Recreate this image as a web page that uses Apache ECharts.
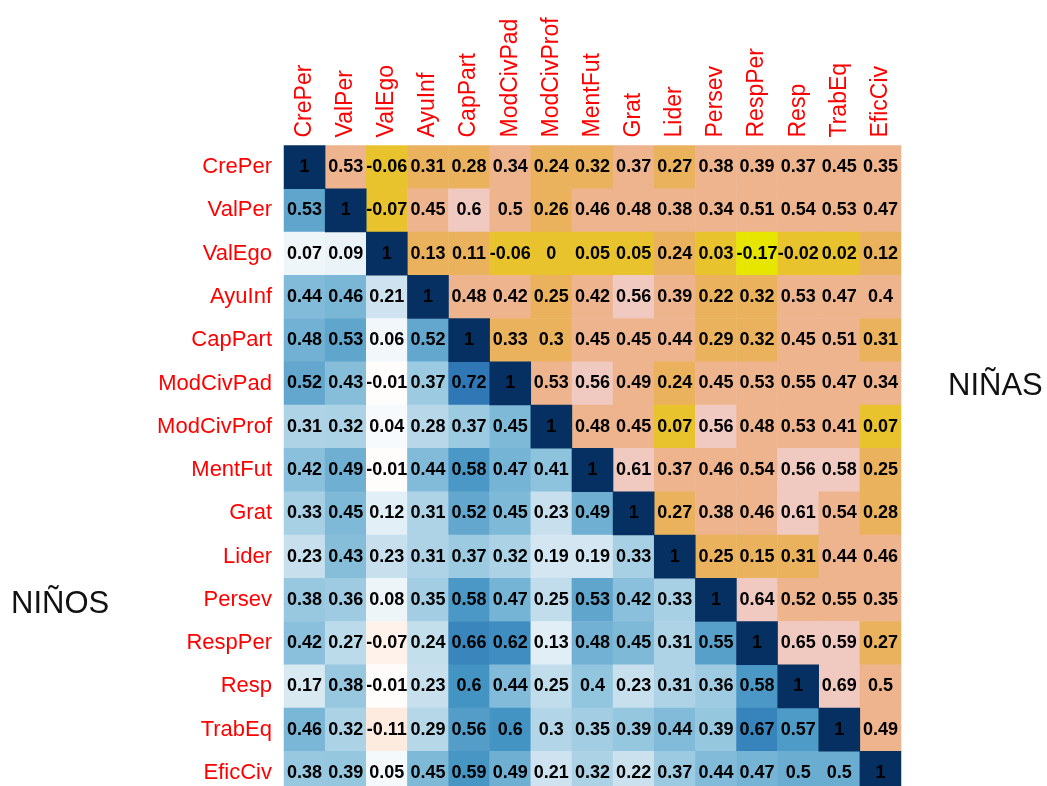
<!DOCTYPE html>
<html>
<head>
<meta charset="utf-8">
<script src="https://cdn.jsdelivr.net/npm/echarts@6/dist/echarts.min.js"></script>
<style>
  html, body { margin: 0; padding: 0; background: #ffffff; overflow: hidden; }
  #chart { width: 1047px; height: 800px; }
</style>
</head>
<body>
<div id="chart"></div>
<script>
// Variables of the correlation matrix (same order on both axes)
const variables = ['CrePer', 'ValPer', 'ValEgo', 'AyuInf', 'CapPart', 'ModCivPad', 'ModCivProf',
  'MentFut', 'Grat', 'Lider', 'Persev', 'RespPer', 'Resp', 'TrabEq', 'EficCiv'];

// Girls (upper triangle): row i holds correlations with variables i+1 .. end
const ninasRows = [
  [0.53, -0.06, 0.31, 0.28, 0.34, 0.24, 0.32, 0.37, 0.27, 0.38, 0.39, 0.37, 0.45, 0.35],
  [-0.07, 0.45, 0.6, 0.5, 0.26, 0.46, 0.48, 0.38, 0.34, 0.51, 0.54, 0.53, 0.47],
  [0.13, 0.11, -0.06, 0, 0.05, 0.05, 0.24, 0.03, -0.17, -0.02, 0.02, 0.12],
  [0.48, 0.42, 0.25, 0.42, 0.56, 0.39, 0.22, 0.32, 0.53, 0.47, 0.4],
  [0.33, 0.3, 0.45, 0.45, 0.44, 0.29, 0.32, 0.45, 0.51, 0.31],
  [0.53, 0.56, 0.49, 0.24, 0.45, 0.53, 0.55, 0.47, 0.34],
  [0.48, 0.45, 0.07, 0.56, 0.48, 0.53, 0.41, 0.07],
  [0.61, 0.37, 0.46, 0.54, 0.56, 0.58, 0.25],
  [0.27, 0.38, 0.46, 0.61, 0.54, 0.28],
  [0.25, 0.15, 0.31, 0.44, 0.46],
  [0.64, 0.52, 0.55, 0.35],
  [0.65, 0.59, 0.27],
  [0.69, 0.5],
  [0.49]
];

// Boys (lower triangle): row i holds correlations with variables 0 .. i-1
const ninosRows = [
  [],
  [0.53],
  [0.07, 0.09],
  [0.44, 0.46, 0.21],
  [0.48, 0.53, 0.06, 0.52],
  [0.52, 0.43, -0.01, 0.37, 0.72],
  [0.31, 0.32, 0.04, 0.28, 0.37, 0.45],
  [0.42, 0.49, -0.01, 0.44, 0.58, 0.47, 0.41],
  [0.33, 0.45, 0.12, 0.31, 0.52, 0.45, 0.23, 0.49],
  [0.23, 0.43, 0.23, 0.31, 0.37, 0.32, 0.19, 0.19, 0.33],
  [0.38, 0.36, 0.08, 0.35, 0.58, 0.47, 0.25, 0.53, 0.42, 0.33],
  [0.42, 0.27, -0.07, 0.24, 0.66, 0.62, 0.13, 0.48, 0.45, 0.31, 0.55],
  [0.17, 0.38, -0.01, 0.23, 0.6, 0.44, 0.25, 0.4, 0.23, 0.31, 0.36, 0.58],
  [0.46, 0.32, -0.11, 0.29, 0.56, 0.6, 0.3, 0.35, 0.39, 0.44, 0.39, 0.67, 0.57],
  [0.38, 0.39, 0.05, 0.45, 0.59, 0.49, 0.21, 0.32, 0.22, 0.37, 0.44, 0.47, 0.5, 0.5]
];

// Diagonal value
const diagonal = variables.map(() => 1);

// Group titles
const groupLabels = { upper: 'NIÑAS', lower: 'NIÑOS' };

// Binned terrain palette for the upper triangle (9 classes on [-1, 1])
const terrainBreaks = [-1, -0.778, -0.556, -0.333, -0.111, 0.11, 0.333, 0.556, 0.778, 1.001];
const terrainColors = ['#00A600', '#3EBB00', '#8BD000', '#E6E600', '#E8C32E',
  '#EBB25E', '#EDB48E', '#F0C9C0', '#F2F2F2'];

// Diverging red-blue ramp for the lower triangle and diagonal
const rdbuColors = ['#67001F', '#B2182B', '#D6604D', '#F4A582', '#FDDBC7', '#FFFFFF',
  '#D1E5F0', '#92C5DE', '#4393C3', '#2166AC', '#053061'];

const upperData = [];
ninasRows.forEach((row, i) => {
  row.forEach((v, k) => upperData.push([i + 1 + k, i, v]));
});
const lowerData = [];
ninosRows.forEach((row, i) => {
  row.forEach((v, j) => lowerData.push([j, i, v]));
});
diagonal.forEach((v, i) => lowerData.push([i, i, v]));

const font = "'Liberation Sans', Arial, sans-serif";

const cellLabel = {
  show: true,
  formatter: p => String(p.value[2]),
  color: '#000000',
  fontFamily: font,
  fontWeight: 'bold',
  fontSize: 18
};

const chart = echarts.init(document.getElementById('chart'), null, { renderer: 'canvas' });
chart.setOption({
  animation: false,
  backgroundColor: '#ffffff',
  grid: { left: 284, top: 145.5, width: 617, height: 649, containLabel: false },
  xAxis: {
    type: 'category',
    data: variables,
    position: 'top',
    axisLine: { show: false },
    axisTick: { show: false },
    splitLine: { show: false },
    axisLabel: {
      rotate: -90,
      margin: 8,
      color: '#FF0000',
      fontFamily: font,
      fontSize: 23,
      interval: 0
    }
  },
  yAxis: {
    type: 'category',
    data: variables,
    inverse: true,
    axisLine: { show: false },
    axisTick: { show: false },
    splitLine: { show: false },
    axisLabel: {
      margin: 12,
      color: '#FF0000',
      fontFamily: font,
      fontSize: 22,
      interval: 0
    }
  },
  visualMap: [
    {
      type: 'piecewise',
      show: false,
      seriesIndex: 0,
      dimension: 2,
      pieces: terrainColors.map((c, i) => ({ gte: terrainBreaks[i], lt: terrainBreaks[i + 1], color: c }))
    },
    {
      type: 'continuous',
      show: false,
      seriesIndex: 1,
      dimension: 2,
      min: -1,
      max: 1,
      inRange: { color: rdbuColors }
    }
  ],
  series: [
    {
      name: groupLabels.upper,
      type: 'heatmap',
      data: upperData,
      label: cellLabel,
      itemStyle: { borderWidth: 0 },
      emphasis: { disabled: true }
    },
    {
      name: groupLabels.lower,
      type: 'heatmap',
      data: lowerData,
      label: cellLabel,
      itemStyle: { borderWidth: 0 },
      emphasis: { disabled: true }
    }
  ],
  graphic: [
    {
      type: 'text',
      left: 948,
      top: 371,
      style: { text: groupLabels.upper, fontFamily: font, fontSize: 31, fill: '#111111' }
    },
    {
      type: 'text',
      left: 11,
      top: 589,
      style: { text: groupLabels.lower, fontFamily: font, fontSize: 31, fill: '#111111' }
    }
  ]
});
</script>
</body>
</html>
